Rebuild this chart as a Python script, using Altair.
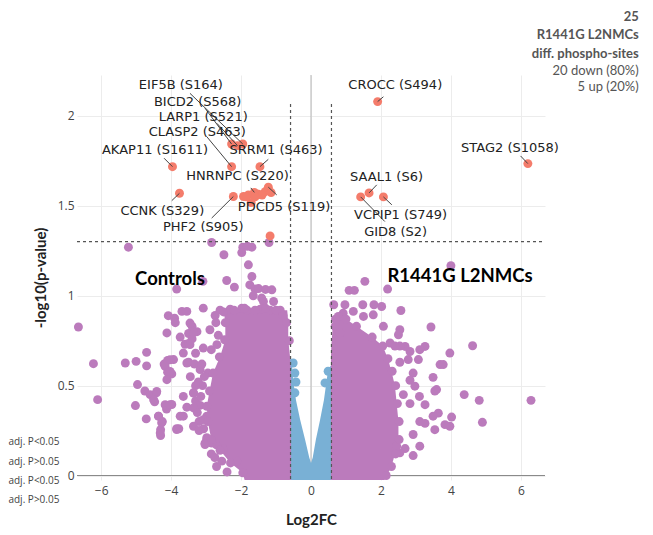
"""
Volcano plot of R1441G L2NMCs vs Controls phospho-sites
"""

import altair as alt
import pandas as pd

PURPLE = "#bb7bbc"
BLUE = "#79b0d5"
RED = "#f47c6b"

# labelled significant sites: point, text centre, leader-line start
lab_names = ["EIF5B (S164)", "BICD2 (S568)", "LARP1 (S521)", "CLASP2 (S463)",
             "AKAP11 (S1611)", "SRRM1 (S463)", "HNRNPC (S220)", "CCNK (S329)",
             "PDCD5 (S119)", "PHF2 (S905)", "CROCC (S494)", "STAG2 (S1058)",
             "SAAL1 (S6)", "VCPIP1 (S749)", "GID8 (S2)"]
lab_fc = [-1.95, -2.27, -2.1, -2.27, -3.96, -1.46, -1.62, -3.76, -1.22, -2.22,
          1.905, 6.2, 1.66, 2.07, 1.42]
lab_p = [1.844, 1.844, 1.835, 1.718, 1.718, 1.718, 1.575, 1.570, 1.604, 1.552,
         2.08, 1.735, 1.572, 1.55, 1.55]
lab_text_x = [-3.72, -3.24, -3.08, -3.25, -4.46, -1.0, -2.1, -4.25, -0.77, -3.08,
              2.41, 5.69, 2.16, 2.56, 2.42]
lab_text_y = [2.172, 2.076, 1.993, 1.909, 1.811, 1.811, 1.666, 1.474, 1.494, 1.382,
              2.172, 1.824, 1.663, 1.45, 1.352]
lab_arm_x = [-3.46, -3.03, -2.69, -2.98, -4.2, -1.22, -1.72, -3.98, -0.98, -2.84,
             2.07, 5.99, 1.88, 2.31, 2.11]
lab_arm_y = [2.126, 2.043, 1.959, 1.885, 1.765, 1.759, 1.6, 1.529, 1.561, 1.432,
             2.107, 1.778, 1.617, 1.506, 1.413]

# unlabelled significant sites
sig_x = [-1.93, -1.79, -1.71, -1.31, -1.14, -1.5, -1.17, -1.85, -1.4, -1.6]
sig_y = [1.552, 1.561, 1.518, 1.579, 1.574, 1.565, 1.333, 1.55, 1.56, 1.55]

# scattered non-significant sites outside the dense clouds
purple_x = [-5.22, -2.84, -2.49, -1.95, -1.82, -1.69, -1.98, -1.2, -1.79, -1.69,
            -2.41, -3.09, -2.19, -3.84, -1.75, -1.6, -1.5, -1.3, -1.12, -1.41,
            -1.65, -6.65, -6.22, -6.1, -5.31, -5.0, -4.7, -4.7, -4.96, -4.75,
            -4.6, -4.42, -4.47, -5.02, -4.71, -4.36, -4.25, -4.3, -4.3, -4.13,
            -4.15, -3.98, -4.12, -4.08, -3.9, -3.88, -3.69, -3.55, -3.4, -3.5,
            -3.26, -3.4, -3.08, -2.74, -2.72, -3.74, -3.6, -3.5, -4.1, -4.2,
            -3.93, -3.5, -3.33, -3.17, -4.1, -3.98, -3.65, -3.55, -3.74, -3.84,
            -3.78, -3.36, -3.3, -3.17, -2.98, -3.07, -2.98, -3.03, -2.7, -2.5,
            -2.6, -2.31, -1.98, -1.83, -1.45, -1.17, -0.88, -1.07, -1.36, -0.7,
            -0.62, -2.85, -2.95, -3.1, -2.7, -2.55, -2.4, -2.85, -3.2, -3.45,
            -3.3, -2.65,
            -3.46, -2.89, -3.36, -3.46, -3.08, -2.69, -3.65, -4.03, -4.17, -3.55,
            -3.17, -4.03, -4.12, -3.36, -4.41, -4.5, -4.17, -4.03, -3.65, -3.36,
            -3.08, -4.36, -4.27, -3.84, -3.36, -2.98, -2.84, -3.03, -2.12, -4.31,
            -1.95, -2.3, -2.6, -2.85, -2.95, -2.98, -2.9, -2.8, -2.62, -2.47,
            -2.45, -2.5, -2.2, -1.9, -1.6, -1.3, -1.0, -0.8,
            -3.22, -3.15, -3.25, -3.12, -3.2, -3.05, -3.3, -2.75,
            4.0, 1.54, 1.09, 1.24, 2.19, 0.97, 1.48, 1.8, 2.02, 2.57,
            3.43, 4.62, 3.97, 3.69, 3.78, 3.49, 4.38, 4.81, 6.29, 4.9,
            0.92, 1.21, 1.5, 1.78, 2.07, 2.54, 2.5, 0.78, 0.69, 0.83,
            2.26, 3.26, 3.11, 2.83, 2.69, 2.54, 2.4, 3.07, 2.78, 2.54,
            2.92, 2.83, 2.97, 3.59, 3.54, 3.1, 3.26, 2.83, 2.64, 3.64,
            4.02, 3.49, 3.97, 3.83, 3.54, 3.26, 3.11, 2.92, 3.11, 2.92,
            2.69, 2.54, 2.45, 0.65,
            2.15, 2.3, 2.42, 2.52, 2.52, 2.47, 2.42, 2.32, 2.2, 2.05,
            1.75, 1.3, 1.0, 0.7]
purple_y = [1.27, 1.296, 1.228, 1.27, 1.275, 1.27, 1.24, 1.296, 1.172, 1.107,
            1.085, 1.08, 1.048, 1.037, 1.06, 1.037, 1.04, 1.035, 1.033, 0.987,
            1.0, 0.826, 0.622, 0.422, 0.626, 0.635, 0.685, 0.61, 0.506, 0.47,
            0.45, 0.46, 0.41, 0.389, 0.315, 0.33, 0.3, 0.255, 0.222, 0.37,
            0.39, 0.395, 0.793, 0.889, 0.875, 0.85, 0.913, 0.913, 0.83, 0.79,
            0.8, 0.76, 0.931, 0.89, 0.85, 0.77, 0.73, 0.735, 0.64, 0.62,
            0.645, 0.63, 0.62, 0.61, 0.575, 0.565, 0.44, 0.38, 0.33, 0.26,
            0.26, 0.46, 0.415, 0.39, 0.33, 0.26, 0.21, 0.18, 0.17, 0.148,
            0.92, 0.925, 0.93, 0.92, 0.925, 0.92, 0.92, 0.968, 0.968, 0.85,
            0.75, 0.7, 0.57, 0.5, 0.05, 0.08, 0.02, 0.12, 0.3, 0.55,
            0.68, 0.78,
            0.848, 0.811, 0.793, 0.728, 0.709, 0.728, 0.681, 0.644, 0.607, 0.626,
            0.589, 0.579, 0.533, 0.459, 0.468, 0.422, 0.394, 0.394, 0.33, 0.376,
            0.311, 0.33, 0.293, 0.256, 0.274, 0.2, 0.181, 0.172, 0.08, 0.237,
            0.015, 0.07, 0.14, 0.2, 0.3, 0.385, 0.47, 0.57, 0.66, 0.755,
            0.85, 0.91, 0.92, 0.93, 0.92, 0.93, 0.92, 0.89,
            0.52, 0.44, 0.35, 0.62, 0.25, 0.55, 0.5, 0.1,
            1.167, 1.08, 1.03, 1.03, 1.037, 0.95, 0.95, 0.95, 0.94, 0.918,
            0.826, 0.722, 0.681, 0.617, 0.617, 0.546, 0.45, 0.418, 0.418, 0.296,
            0.903, 0.913, 0.885, 0.894, 0.83, 0.811, 0.783, 0.885, 0.83, 0.793,
            0.737, 0.718, 0.7, 0.69, 0.718, 0.72, 0.72, 0.645, 0.645, 0.63,
            0.57, 0.53, 0.497, 0.478, 0.47, 0.44, 0.394, 0.4, 0.45, 0.347,
            0.325, 0.33, 0.274, 0.283, 0.255, 0.29, 0.3, 0.228, 0.163, 0.111,
            0.15, 0.126, 0.163, 0.95,
            0.0, 0.05, 0.12, 0.2, 0.3, 0.4, 0.5, 0.58, 0.65, 0.72,
            0.77, 0.83, 0.87, 0.87]

# outline of the solid purple masses (y, left edge, right edge)
left_core_y = [-0.025, 0.015, 0.07, 0.14, 0.2, 0.3, 0.385, 0.47, 0.57, 0.66,
               0.755, 0.85, 0.92]
left_core_x = [-1.9, -1.95, -2.3, -2.6, -2.85, -2.95, -2.98, -2.9, -2.8, -2.6,
               -2.45, -2.45, -2.5]
left_core_x2 = [-0.57, -0.57, -0.57, -0.57, -0.57, -0.57, -0.57, -0.57, -0.57,
                -0.6, -0.65, -0.65, -0.68]
right_core_y = [-0.025, 0.05, 0.12, 0.2, 0.3, 0.4, 0.5, 0.58, 0.65, 0.72,
                0.77, 0.83, 0.87]
right_core_x = [0.57, 0.57, 0.57, 0.57, 0.57, 0.57, 0.57, 0.57, 0.57, 0.58,
                0.6, 0.62, 0.65]
right_core_x2 = [2.1, 2.3, 2.4, 2.5, 2.5, 2.45, 2.4, 2.3, 2.2, 2.05,
                 1.75, 1.3, 1.0]

# blue band of small fold changes (top edge of the V)
blue_x = [-0.6, -0.55, -0.51, -0.43, -0.31, -0.17, -0.05, 0.0, 0.05, 0.14,
          0.26, 0.37, 0.49, 0.6]
blue_y = [0.66, 0.64, 0.53, 0.42, 0.31, 0.2, 0.1, 0.07, 0.1, 0.2,
          0.31, 0.42, 0.59, 0.62]
blue_pt_x = [-0.51, -0.46, -0.43, -0.46, 0.49, 0.4]
blue_pt_y = [0.626, 0.57, 0.52, 0.46, 0.58, 0.515]

# thresholds
fc_cut = 0.585
p_cut = 1.301

summary_bold = ["25", "R1441G L2NMCs", "diff. phospho-sites"]
summary_bold_y = [2.552, 2.452, 2.347]
summary_plain = ["20 down (80%)", "5 up (20%)"]
summary_plain_y = [2.253, 2.159]

legend_text = ["adj. P<0.05", "adj. P>0.05", "adj. P<0.05", "adj. P>0.05"]
legend_y = [0.185, 0.076, -0.032, -0.139]

X_DOM = [-6.69, 6.69]
Y_DOM = [-0.025, 2.228]


def main():
    xs = alt.Scale(domain=X_DOM, nice=False, zero=False)
    ys = alt.Scale(domain=Y_DOM, nice=False, zero=False)
    x_axis = alt.Axis(values=[-6, -4, -2, 0, 2, 4, 6], title="Log2FC",
                      grid=True, gridColor="#ececec", domain=False,
                      ticks=False, labelFont="Open Sans", labelFontSize=12,
                      labelColor="#444", labelPadding=5, titleFont="Lato",
                      titleFontSize=15, titleFontWeight="bold",
                      titleColor="#222", titlePadding=16)
    y_axis = alt.Axis(values=[0, 0.5, 1, 1.5, 2], format="~g",
                      title="-log10(p-value)", grid=True, gridColor="#ececec",
                      domain=False, ticks=False, labelFont="Open Sans",
                      labelFontSize=12, labelColor="#444", labelPadding=3,
                      titleFont="Lato", titleFontSize=15,
                      titleFontWeight="bold", titleColor="#222",
                      titlePadding=9)

    def X(f="x"):
        return alt.X(f"{f}:Q", scale=xs, axis=x_axis)

    def Y(f="y"):
        return alt.Y(f"{f}:Q", scale=ys, axis=y_axis)

    zero = pd.DataFrame({"x": [0, X_DOM[0]], "x2": [0, X_DOM[1]],
                         "y": [Y_DOM[0], 0], "y2": [Y_DOM[1], 0],
                         "c": ["v", "h"]})
    zero_lines = alt.Chart(zero).mark_rule(strokeWidth=1).encode(
        X(), alt.X2("x2"), Y(), alt.Y2("y2"),
        color=alt.Color("c:N", scale=alt.Scale(domain=["v", "h"],
                                               range=["#b5b5b5", "#8a8a8a"]),
                        legend=None))

    blue_area = alt.Chart(pd.DataFrame(
        {"x": blue_x, "y": blue_y, "y2": [-0.025] * len(blue_x)})).mark_area(
        color=BLUE, opacity=1).encode(X(), Y(), alt.Y2("y2"))
    blue_pts = alt.Chart(pd.DataFrame({"x": blue_pt_x, "y": blue_pt_y})
                         ).mark_circle(size=80, color=BLUE, opacity=1).encode(
        X(), Y())

    left_core = alt.Chart(pd.DataFrame(
        {"y": left_core_y, "x": left_core_x, "x2": left_core_x2})).mark_area(
        orient="horizontal", color=PURPLE, opacity=1).encode(
        X(), alt.X2("x2"), Y())
    right_core = alt.Chart(pd.DataFrame(
        {"y": right_core_y, "x": right_core_x, "x2": right_core_x2})).mark_area(
        orient="horizontal", color=PURPLE, opacity=1).encode(
        X(), alt.X2("x2"), Y())
    purple_pts = alt.Chart(pd.DataFrame({"x": purple_x, "y": purple_y})
                           ).mark_circle(size=80, color=PURPLE,
                                         opacity=1).encode(X(), Y())

    red = pd.DataFrame({"x": lab_fc + sig_x, "y": lab_p + sig_y})
    red_pts = alt.Chart(red).mark_circle(size=80, color=RED, opacity=1).encode(
        X(), Y())

    dash = pd.DataFrame({"x": [-fc_cut, fc_cut, X_DOM[0]],
                         "x2": [-fc_cut, fc_cut, X_DOM[1]],
                         "y": [-0.02, -0.02, p_cut],
                         "y2": [2.07, 2.07, p_cut]})
    dash_lines = alt.Chart(dash).mark_rule(
        color="#555", strokeWidth=1.2, strokeDash=[3, 3]).encode(
        X(), alt.X2("x2"), Y(), alt.Y2("y2"))

    labels = pd.DataFrame({"name": lab_names, "x": lab_fc, "y": lab_p,
                           "tx": lab_text_x, "ty": lab_text_y,
                           "ax": lab_arm_x, "ay": lab_arm_y})
    arms = alt.Chart(labels).mark_rule(color="#444", strokeWidth=1).encode(
        X("ax"), alt.X2("x"), Y("ay"), alt.Y2("y"))
    label_text = alt.Chart(labels).mark_text(
        font="DejaVu Sans", fontSize=13, color="#222", align="center",
        baseline="middle").encode(X("tx"), Y("ty"), text="name:N")

    groups = alt.Chart(pd.DataFrame(
        {"x": [-4.03, 4.26], "y": [1.094, 1.111],
         "t": ["Controls", "R1441G L2NMCs"]})).mark_text(
        font="Lato", fontSize=18.5, fontWeight="bold", color="#000",
        align="center", baseline="middle").encode(X(), Y(), text="t:N")

    sum_bold = alt.Chart(pd.DataFrame(
        {"x": [9.37] * 3, "y": summary_bold_y, "t": summary_bold})).mark_text(
        font="Lato", fontSize=13, fontWeight="bold", color="#555",
        align="right", baseline="middle").encode(X(), Y(), text="t:N")
    sum_plain = alt.Chart(pd.DataFrame(
        {"x": [9.37] * 2, "y": summary_plain_y, "t": summary_plain})
    ).mark_text(font="Lato", fontSize=13, color="#555", align="right",
                baseline="middle").encode(X(), Y(), text="t:N")

    legend = alt.Chart(pd.DataFrame(
        {"x": [-8.65] * 4, "y": legend_y, "t": legend_text})).mark_text(
        font="Open Sans", fontSize=10, color="#444", align="left",
        baseline="middle").encode(X(), Y(), text="t:N")

    chart = alt.layer(
        zero_lines, blue_area, blue_pts, left_core, right_core,
        purple_pts, red_pts, dash_lines, arms, label_text, groups,
        sum_bold, sum_plain, legend
    ).properties(
        width=468, height=405,
        autosize=alt.AutoSizeParams(type="none"),
        padding={"left": 69, "top": 67, "right": 100, "bottom": 48}
    ).configure_view(stroke=None)

    chart.save("out.html", embed_options={"renderer": "svg", "actions": False})


if __name__ == "__main__":
    main()
